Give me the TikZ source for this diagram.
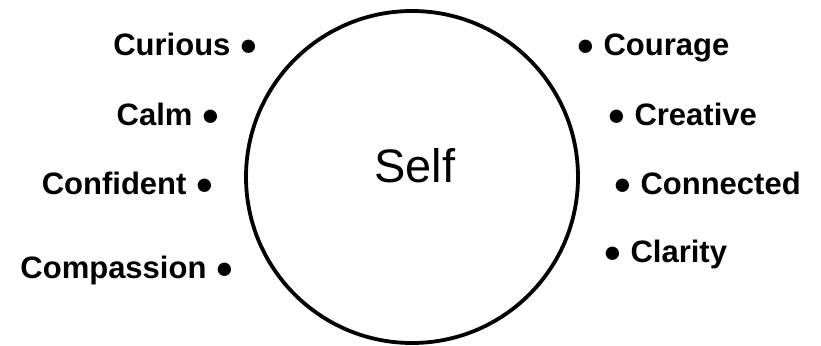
\documentclass[tikz,border=0pt]{standalone}
\usepackage{fontspec}
\setmainfont{Liberation Sans}
\begin{document}
\begin{tikzpicture}[x=1pt,y=-1pt,
  lab/.style={inner sep=0pt,font=\fontsize{31}{37}\selectfont\bfseries},
  leftlab/.style={lab,anchor=base east},
  rightlab/.style={lab,anchor=base west}]
\useasboundingbox (0,0) rectangle (821,345);
\node[draw,line width=3.8pt,circle,minimum size=332pt,inner sep=0pt] (self) at (412,177) {};
\node[inner sep=0pt,anchor=base,font=\fontsize{47}{56}\selectfont] (selftext) at (415,182) {Self};
\node[leftlab] (curious) at (258,56) {Curious ●};
\node[leftlab] (calm) at (220,125) {Calm ●};
\node[leftlab] (confident) at (214,194) {Confident ●};
\node[leftlab] (compassion) at (234,278) {Compassion ●};
\node[rightlab] (courage) at (576,56) {● Courage};
\node[rightlab] (creative) at (607,125) {● Creative};
\node[rightlab] (connected) at (613,194) {● Connected};
\node[rightlab] (clarity) at (603,262) {● Clarity};
\end{tikzpicture}
\end{document}
